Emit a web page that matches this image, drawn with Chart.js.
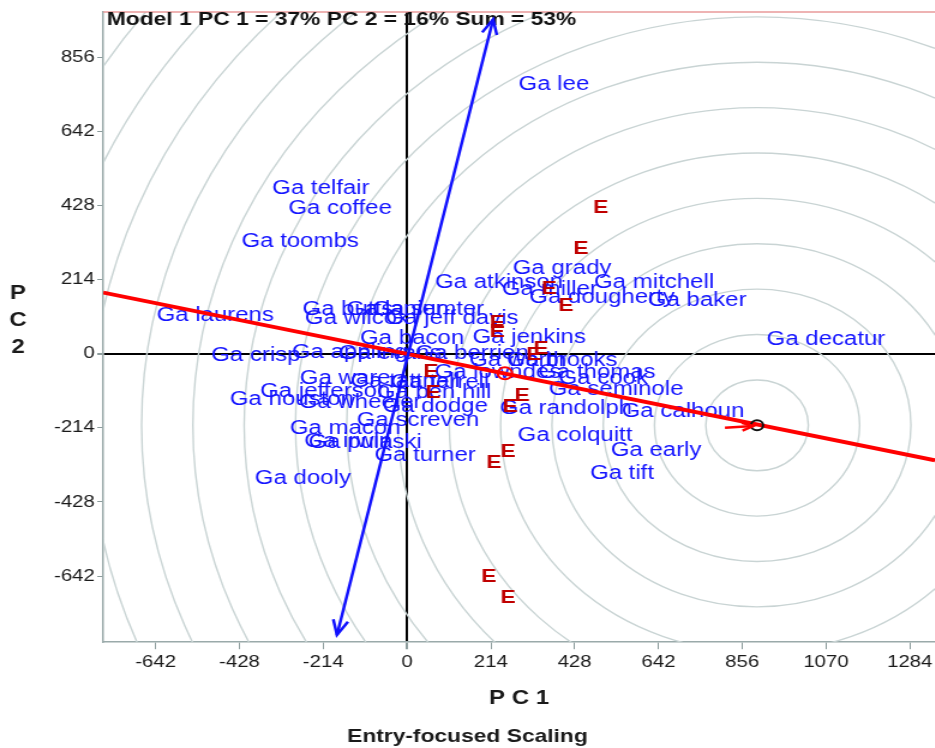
<!DOCTYPE html>
<html lang="en">
<head>
<meta charset="UTF-8">
<title>GGE biplot - PC 1 vs PC 2</title>
<style>
  html, body { margin: 0; padding: 0; background: #fff; overflow: hidden; }
  /* the biplot is drawn narrow and widened, like the exported figure */
  #wrap { width: 779px; height: 748px; transform: scale(1.2, 1); transform-origin: 0 0; }
</style>
</head>
<body>
<div id="wrap"><canvas id="biplot" width="779" height="748"></canvas></div>

<script src="https://cdn.jsdelivr.net/npm/chart.js"></script>
<script>
// entries (counties) : PC 1 / PC 2 scores
const entries = ['Ga lee', 'Ga telfair', 'Ga coffee', 'Ga toombs', 'Ga laurens', 'Ga crisp',
  'Ga butts', 'Ga lanier', 'Ga sumter', 'Ga wilcox', 'Ga jeff davis', 'Ga bacon', 'Ga jenkins',
  'Ga atkinson', 'Ga grady', 'Ga miller', 'Ga mitchell', 'Ga dougherty', 'Ga baker', 'Ga decatur',
  'Ga appling', 'Ga evans', 'Ga berrien', 'Ga worth', 'Ga brooks', 'Ga lowndes', 'Ga thomas',
  'Ga cook', 'Ga seminole', 'Ga randolph', 'Ga calhoun', 'Ga colquitt', 'Ga early', 'Ga tift',
  'Ga ware', 'Ga tattnall', 'Ga terrell', 'Ga jefferson', 'Ga ben hill', 'Ga houston', 'Ga wheeler',
  'Ga dodge', 'Ga screven', 'Ga macon', 'Ga irwin', 'Ga pulaski', 'Ga turner', 'Ga dooly'];
const entryPC1 = [375, -220, -171, -273, -490, -386,
  -151, -31, 54, -128, 115, 13, 312,
  235, 396, 365, 631, 498, 741, 1070,
  -146, -43, 166, 283, 396, 232, 485,
  501, 534, 406, 705, 429, 636, 549,
  -158, -5, 84, -209, 69, -294, -120,
  72, 28, -158, -150, -107, 46, -266];
const entryPC2 = [778, 478, 420, 325, 109, -6,
  127, 127, 127, 101, 101, 43, 46,
  204, 245, 184, 204, 161, 153, 40,
  3, 0, 0, -20, -20, -55, -55,
  -72, -104, -158, -167, -236, -279, -346,
  -72, -81, -84, -109, -112, -132, -141,
  -153, -193, -216, -253, -256, -294, -360];

// environments : PC 1 / PC 2 scores
const envPC1 = [495, 444, 363, 406, 230, 230, 342, 324, 61, 66, 294, 263, 258, 222, 209, 258];
const envPC2 = [420, 302, 187, 138, 89, 63, 14, -3, -52, -112, -121, -153, -282, -314, -645, -706];

// average-environment axis, ATC ordinate, ideal entry
const atcAxis = [[-776, 176], [1348, -308]];
const atcOrdinate = [[-179, -812], [220, 965]];
const avgEnv = [250, -57];
const idealEntry = [894, -207];
const idealArrow = [[812, -214], [884, -209]];
const ringStep = 131;

const xRange = [-776, 1348];
const yRange = [-833, 986];
const xTicks = [-642, -428, -214, 0, 214, 428, 642, 856, 1070, 1284];
const yTicks = [-642, -428, -214, 0, 214, 428, 642, 856];

const titleText = 'Model 1 PC 1 = 37% PC 2 = 16% Sum = 53%';

Chart.defaults.font.family = "'Liberation Sans', Arial, sans-serif";
Chart.defaults.color = '#1a1a1a';

function toPoints(xs, ys) {
  return xs.map((v, i) => ({ x: v, y: ys[i] }));
}

function arrowHead(ctx, x0, y0, x1, y1, len) {
  const ang = Math.atan2(y1 - y0, x1 - x0);
  ctx.beginPath();
  ctx.moveTo(x1 - len * Math.cos(ang - 0.4), y1 - len * Math.sin(ang - 0.4));
  ctx.lineTo(x1, y1);
  ctx.lineTo(x1 - len * Math.cos(ang + 0.4), y1 - len * Math.sin(ang + 0.4));
  ctx.stroke();
}

const biplotDecor = {
  id: 'biplotDecor',
  beforeDatasetsDraw(chart) {
    const { ctx, chartArea: a, scales: { x, y } } = chart;
    ctx.save();
    ctx.beginPath();
    ctx.rect(a.left, a.top, a.right - a.left, a.bottom - a.top);
    ctx.clip();

    // concentric rings round the ideal entry
    const cx = x.getPixelForValue(idealEntry[0]);
    const cy = y.getPixelForValue(idealEntry[1]);
    ctx.strokeStyle = '#c9d4d4';
    ctx.lineWidth = 1.4;
    for (let k = 1; k <= 18; k++) {
      const rx = x.getPixelForValue(idealEntry[0] + ringStep * k) - cx;
      const ry = cy - y.getPixelForValue(idealEntry[1] + ringStep * k);
      ctx.beginPath();
      ctx.ellipse(cx, cy, rx, ry, 0, 0, Math.PI * 2);
      ctx.stroke();
    }

    // entry names
    ctx.textAlign = 'center';
    ctx.textBaseline = 'middle';
    ctx.font = "20px 'Liberation Sans', Arial, sans-serif";
    ctx.fillStyle = '#1414ff';
    chart.getDatasetMeta(5).data.forEach((pt, i) => ctx.fillText(entries[i], pt.x, pt.y));

    // environment markers
    ctx.font = "bold 19px 'Liberation Sans', Arial, sans-serif";
    ctx.fillStyle = '#c00000';
    chart.getDatasetMeta(6).data.forEach(pt => ctx.fillText('E', pt.x, pt.y));
    ctx.restore();

    // frame top
    ctx.save();
    ctx.strokeStyle = '#e89a9a';
    ctx.lineWidth = 1.5;
    ctx.beginPath();
    ctx.moveTo(a.left, a.top);
    ctx.lineTo(a.right, a.top);
    ctx.stroke();

    // model summary
    ctx.font = "bold 19px 'Liberation Sans', Arial, sans-serif";
    ctx.fillStyle = '#111';
    ctx.textAlign = 'left';
    ctx.textBaseline = 'middle';
    ctx.fillText(titleText, a.left + 3, a.top + 8);
    ctx.restore();
  },
  afterDatasetsDraw(chart) {
    const { ctx } = chart;
    ctx.save();
    // arrows on both ends of the ATC ordinate
    const b = chart.getDatasetMeta(3).data;
    ctx.strokeStyle = '#1010ff';
    ctx.lineWidth = 2.5;
    arrowHead(ctx, b[0].x, b[0].y, b[1].x, b[1].y, 16);
    arrowHead(ctx, b[1].x, b[1].y, b[0].x, b[0].y, 16);
    // arrow pointing to the ideal entry
    const r = chart.getDatasetMeta(2).data;
    ctx.strokeStyle = '#ff0000';
    ctx.lineWidth = 2.5;
    arrowHead(ctx, r[0].x, r[0].y, r[1].x, r[1].y, 10);
    ctx.restore();
  },
  afterDraw(chart) {
    const { ctx } = chart;
    ctx.save();
    ctx.font = "bold 20px 'Liberation Sans', Arial, sans-serif";
    ctx.fillStyle = '#1a1a1a';
    ctx.textAlign = 'center';
    ctx.textBaseline = 'middle';
    ['P', 'C', '2'].forEach((ch, i) => ctx.fillText(ch, 15, 293 + i * 27));
    ctx.restore();
  }
};

const zeroColor = c => (c.tick && c.tick.value === 0 ? '#000' : 'rgba(0,0,0,0)');
const zeroWidth = c => (c.tick && c.tick.value === 0 ? 2 : 1);

new Chart(document.getElementById('biplot'), {
  type: 'scatter',
  data: {
    datasets: [
      { data: [{ x: avgEnv[0], y: avgEnv[1] }], pointRadius: 6, borderColor: '#ff0000',
        borderWidth: 2, backgroundColor: 'rgba(0,0,0,0)' },
      { data: [{ x: idealEntry[0], y: idealEntry[1] }], pointRadius: 5, borderColor: '#111',
        borderWidth: 2, backgroundColor: 'rgba(0,0,0,0)' },
      { data: idealArrow.map(p => ({ x: p[0], y: p[1] })), showLine: true, pointRadius: 0,
        borderColor: '#ff0000', borderWidth: 2.5 },
      { data: atcOrdinate.map(p => ({ x: p[0], y: p[1] })), showLine: true, pointRadius: 0,
        borderColor: '#1010ff', borderWidth: 2.5 },
      { data: atcAxis.map(p => ({ x: p[0], y: p[1] })), showLine: true, pointRadius: 0,
        borderColor: '#ff0000', borderWidth: 3.8 },
      { data: toPoints(entryPC1, entryPC2), pointRadius: 0 },
      { data: toPoints(envPC1, envPC2), pointRadius: 0 }
    ]
  },
  options: {
    responsive: false,
    animation: false,
    layout: { autoPadding: false, padding: { top: 12, left: 0, right: 0, bottom: 0 } },
    plugins: {
      legend: { display: false },
      tooltip: { enabled: false },
      subtitle: {
        display: true, position: 'bottom', text: 'Entry-focused Scaling',
        font: { size: 19, weight: 'bold' }, color: '#1a1a1a', padding: { top: 9, bottom: 0 }
      }
    },
    scales: {
      x: {
        type: 'linear', min: xRange[0], max: xRange[1],
        afterBuildTicks: s => { s.ticks = xTicks.map(v => ({ value: v })); },
        afterFit: s => { s.paddingLeft = 0; s.paddingRight = 0; s.height = 74; },
        ticks: { font: { size: 17 }, padding: 3, maxRotation: 0, autoSkip: false, callback: v => String(v) },
        grid: { color: zeroColor, lineWidth: zeroWidth, tickColor: '#8c9c9c', tickLength: 7 },
        border: { display: true, color: '#9aaaaa', width: 1.5 },
        title: { display: true, text: 'P C 1', font: { size: 20, weight: 'bold' }, padding: { top: 4, bottom: 6 } }
      },
      y: {
        type: 'linear', min: yRange[0], max: yRange[1],
        afterBuildTicks: s => { s.ticks = yTicks.map(v => ({ value: v })); },
        afterFit: s => { s.paddingTop = 0; s.paddingBottom = 0; s.width = 86; },
        ticks: { font: { size: 17 }, padding: 2, autoSkip: false, callback: v => String(v) },
        grid: { color: zeroColor, lineWidth: zeroWidth, tickColor: '#8c9c9c', tickLength: 5 },
        border: { display: true, color: '#9aaaaa', width: 1.5 }
      }
    }
  },
  plugins: [biplotDecor]
});
</script>
</body>
</html>
